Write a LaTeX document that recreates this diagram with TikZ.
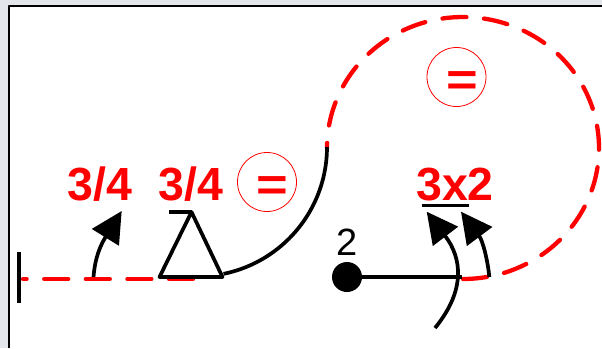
\documentclass[tikz,border=0pt]{standalone}
\usepackage{fontspec}
\setmainfont{Liberation Sans}
\usetikzlibrary{arrows.meta}
\definecolor{framegray}{HTML}{E3E6EA}
\newcommand{\eqsign}{\hspace{11pt}\raisebox{-18pt}[0pt][0pt]{\scalebox{1.18}[1]{=}}}
\tikzset{
	redlabel/.style={anchor=base, text=red, inner sep=0pt, font=\fontsize{46.5}{47}\selectfont\bfseries},
	eqcircle/.style={circle, draw=red, line width=0.8pt, minimum size=59pt, inner sep=0pt, text=red, font=\fontsize{46}{46}\selectfont\bfseries},
	blackline/.style={black, line width=3.7pt},
	reddash/.style={red, line width=4.3pt, line cap=round, dash pattern=on 24pt off 17.6pt},
	bigarrow/.style={blackline, -{Triangle[length=31pt,width=31pt]}}
}
\begin{document}
\begin{tikzpicture}[x=1pt, y=-1pt, line join=round]
	\useasboundingbox (0, 0) rectangle (602, 348);
	\fill[framegray] (0, 0) rectangle (602, 348);
	\fill[white] (9, 6) rectangle (602, 348);
	\draw[black, line width=2.4pt] (9, 348)--(9, 6)--(602, 6);
	% red dashed parts
	\draw[reddash] (193, 279)--(23, 279);
	\draw[reddash, smooth, samples=150, domain=-90:180]
	plot ({463+136*cos(\x)}, {148-131*sin(\x)});
	% black parts
	\draw[blackline, smooth, samples=60, domain=0:78.4]
	plot ({197.5+129.5*cos(\x)}, {147+129.5*sin(\x)});
	\draw[blackline] (159.5, 277)--(222.5, 277)--(191.5, 212)--cycle;
	\draw[blackline] (169, 212)--(191.5, 212);
	\draw[blackline] (19, 252)--(19, 303);
	\node[circle, fill=black, minimum size=30pt, inner sep=0pt] (dot) at (347, 277) {};
	\coordinate (lineend) at (462, 277);
	\draw[blackline] (dot)--(lineend);
	\draw[blackline] (421.5, 205.5)--(469, 205.5);
	% arrows
	\draw[bigarrow] (93.5, 277) .. controls (95, 258) and (100, 246) .. (121.7, 211);
	\draw[bigarrow] (435, 328) .. controls (466, 290) and (462, 258) .. (426.7, 211.7);
	\draw[bigarrow] (489.3, 277) .. controls (488, 262) and (483, 241) .. (461, 211.7);
	% labels
	\node[redlabel] (leftfrac) at (100, 200.5) {3/4};
	\node[redlabel] (midfrac) at (191, 200.5) {3/4};
	\node[redlabel] (product) at (455, 200) {3x2};
	\node[anchor=base, inner sep=0pt, font=\fontsize{38}{38}\selectfont] (two) at (347, 255.5) {2};
	\node[eqcircle] (lefteq) at (267, 182) {\eqsign};
	\node[eqcircle] (righteq) at (456.5, 77) {\eqsign};
\end{tikzpicture}
\end{document}
